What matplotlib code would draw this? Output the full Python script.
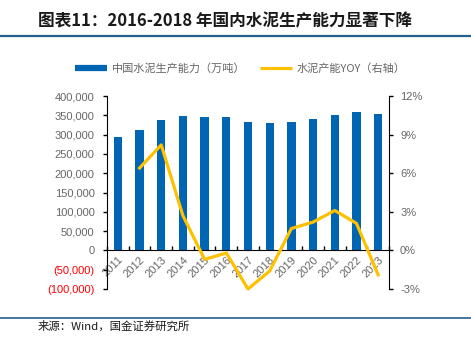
import matplotlib
matplotlib.use('Agg')
import matplotlib.pyplot as plt
from matplotlib.lines import Line2D
from matplotlib.ticker import FuncFormatter, FixedLocator
import numpy as np

plt.rcParams['font.family'] = ['Liberation Sans', 'Noto Sans CJK SC', 'DejaVu Sans']

# 数据
years = ['2011', '2012', '2013', '2014', '2015', '2016', '2017',
         '2018', '2019', '2020', '2021', '2022', '2023']
capacity = [295000, 313000, 339000, 347000, 345000, 345000, 333000,
            330000, 333000, 341000, 351000, 359000, 354000]
yoy_years = years[1:]
yoy = [6.4, 8.2, 2.7, -0.7, -0.2, -3.0, -1.6, 1.7, 2.2, 3.1, 2.1, -1.9]

left_ticks = [-100000, -50000, 0, 50000, 100000, 150000, 200000,
              250000, 300000, 350000, 400000]
right_ticks = [-3, 0, 3, 6, 9, 12]

bar_color = '#0066B3'
line_color = '#FFC000'
gray = '#666666'
rule_color = '#24608F'

fig = plt.figure(figsize=(4.71, 3.40), dpi=100)
ax = fig.add_axes([107 / 471, 1 - 289 / 340, 282 / 471, 193 / 340])
ax2 = ax.twinx()

x = np.arange(len(years))
ax.bar(x, capacity, width=0.38, color=bar_color, zorder=2)
ax.set_xlim(-0.5, len(years) - 0.5)
ax.set_ylim(-100000, 400000)

x2 = [years.index(y) for y in yoy_years]
ax2.plot(x2, yoy, color=line_color, lw=2.3, clip_on=False, zorder=3)
ax2.set_ylim(-3, 12)

# 左轴
def left_fmt(v, pos):
    if v < 0:
        return '({:,.0f})'.format(-v)
    return '{:,.0f}'.format(v)

ax.yaxis.set_major_locator(FixedLocator(left_ticks))
ax.yaxis.set_major_formatter(FuncFormatter(left_fmt))
ax.tick_params(axis='y', direction='out', length=3, width=1, colors='black',
               labelcolor=gray, labelsize=8, pad=6)
for lab, v in zip(ax.get_yticklabels(), left_ticks):
    if v < 0:
        lab.set_color('#FF0000')

# 右轴
ax2.yaxis.set_major_locator(FixedLocator(right_ticks))
ax2.yaxis.set_major_formatter(FuncFormatter(lambda v, p: '{:.0f}%'.format(v)))
ax2.tick_params(axis='y', direction='out', length=3, width=1, colors='black',
                labelcolor=gray, labelsize=8, pad=5)

# x轴在0处
for a in (ax, ax2):
    a.spines['top'].set_visible(False)
    a.spines['bottom'].set_visible(False)
ax.spines['bottom'].set_visible(True)
ax.spines['bottom'].set_position(('data', 0))
ax.spines['bottom'].set_color('black')
ax.spines['left'].set_color('black')
ax2.spines['right'].set_color('black')
ax2.spines['left'].set_visible(False)
ax.spines['right'].set_visible(False)

ax.set_xticks(x)
ax.set_xticklabels(years, rotation=45, ha='right', va='top',
                   rotation_mode='anchor', color=gray, fontsize=8)
ax.set_xticks(np.arange(-0.5, len(years)), minor=True)
ax.tick_params(axis='x', which='major', length=0, pad=3)
ax.tick_params(axis='x', which='minor', direction='in', length=3, width=1)

# 图例
handles = [Line2D([], [], color=bar_color, lw=4.5, solid_capstyle='butt'),
           Line2D([], [], color=line_color, lw=2.3, solid_capstyle='butt')]
labels = ['中国水泥生产能力（万吨）', '水泥产能YOY（右轴）']
leg = fig.legend(handles, labels, loc='center', ncol=2, frameon=False,
                 bbox_to_anchor=(240 / 471, 1 - 69 / 340),
                 handlelength=2.9, handletextpad=0.4, columnspacing=1.3,
                 prop={'family': ['Noto Sans CJK SC', 'DejaVu Sans'], 'size': 8})
for t in leg.get_texts():
    t.set_color(gray)

# 标题和来源
fig.text(38 / 471, 1 - 21 / 340, '图表11：2016-2018 年国内水泥生产能力显著下降',
         fontsize=12, fontweight='bold', fontstyle='italic', va='center',
         family=['Noto Sans CJK SC', 'DejaVu Sans'], color='#1a1a1a')
fig.add_artist(Line2D([0, 1], [1 - 36 / 340] * 2, color=rule_color, lw=1.6,
                      transform=fig.transFigure))
fig.add_artist(Line2D([0, 1], [1 - 318 / 340] * 2, color=rule_color, lw=1.2,
                      transform=fig.transFigure))
fig.text(38 / 471, 1 - 326 / 340, '来源：Wind，国金证券研究所', fontsize=8.2,
         va='center', family=['Noto Sans CJK SC', 'DejaVu Sans'], color='#1a1a1a')

fig.savefig('out.png', dpi=100)
